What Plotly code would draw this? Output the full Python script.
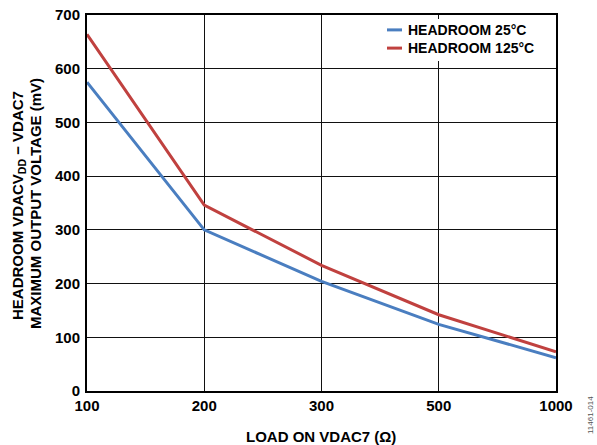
import plotly.graph_objects as go

loads = ["100", "200", "300", "500", "1000"]
headroom_25 = [575, 300, 204, 124, 62]
headroom_125 = [664, 346, 234, 142, 73]
series_names = ["HEADROOM 25°C", "HEADROOM 125°C"]
series_colors = ["#4A7EC0", "#C0413F"]

font_family = "Liberation Sans, Arial, sans-serif"
FS = 15
LEG_FS = 14

# plot area in pixels (from reference)
L, R, T, B = 87, 556, 15, 391
W, H = 597, 445

def px_x(px):
    return (px - L) / (R - L)

def px_y(py):
    return (B - py) / (B - T)

fig = go.Figure()
for vals, name, color in zip([headroom_25, headroom_125], series_names, series_colors):
    fig.add_trace(go.Scatter(x=loads, y=vals, mode="lines", name=name,
                             line=dict(color=color, width=3), showlegend=False))

fig.update_layout(
    width=W, height=H,
    margin=dict(l=L, r=W - R, t=T, b=H - B),
    paper_bgcolor="white", plot_bgcolor="white",
    font=dict(family=font_family, size=FS, color="black"),
    showlegend=False,
    xaxis=dict(type="category", range=[0, 4], showgrid=True, gridcolor="#111111", gridwidth=1,
               showline=True, linecolor="black", linewidth=2, mirror=True,
               ticks="", tickfont=dict(size=FS, family=font_family),
               tickprefix="<b>", ticksuffix="</b>", ticklabelstandoff=0,
               automargin=False),
    yaxis=dict(range=[0, 700], dtick=100, showgrid=True, gridcolor="#111111", gridwidth=1,
               showline=True, linecolor="black", linewidth=2, mirror=True,
               ticks="", tickfont=dict(size=FS, family=font_family),
               tickprefix="<b>", ticksuffix="</b>", ticklabelstandoff=2,
               automargin=False),
)

# legend (drawn manually to match the compact reference legend)
row_gap = LEG_FS * 1.3
row_y = [39 - row_gap / 2, 39 + row_gap / 2]
fig.add_shape(type="rect", xref="paper", yref="paper",
              x0=px_x(381), x1=px_x(553), y0=px_y(61), y1=px_y(19),
              fillcolor="white", line=dict(width=0), layer="above")
for yc, color in zip(row_y, series_colors):
    fig.add_shape(type="line", xref="paper", yref="paper",
                  x0=px_x(387), x1=px_x(402), y0=px_y(yc), y1=px_y(yc),
                  line=dict(color=color, width=3), layer="above")
fig.add_annotation(text="<br>".join("<b>" + n + "</b>" for n in series_names),
                   xref="paper", yref="paper", x=px_x(407), y=px_y(39),
                   xanchor="left", yanchor="middle", align="left",
                   showarrow=False, font=dict(size=LEG_FS, family=font_family), borderpad=0)

fig.add_annotation(text="<b>LOAD ON VDAC7 (Ω)</b>", xref="paper", yref="paper",
                   x=px_x(321), y=px_y(436), xanchor="center", yanchor="middle", showarrow=False,
                   font=dict(size=FS, family=font_family))
fig.add_annotation(text="<b>HEADROOM VDACV<sub>DD</sub> − VDAC7</b>",
                   xref="paper", yref="paper", x=px_x(18), y=px_y(206), xanchor="center", yanchor="middle",
                   textangle=-90, showarrow=False, font=dict(size=FS, family=font_family))
fig.add_annotation(text="<b>MAXIMUM OUTPUT VOLTAGE (mV)</b>",
                   xref="paper", yref="paper", x=px_x(35), y=px_y(204), xanchor="center", yanchor="middle",
                   textangle=-90, showarrow=False, font=dict(size=FS, family=font_family))
fig.add_annotation(text="11461-014", xref="paper", yref="paper", x=px_x(590), y=px_y(415),
                   xanchor="center", yanchor="middle", textangle=-90, showarrow=False,
                   font=dict(size=8, color="#555555", family=font_family))

fig.write_html("out.html", config={"displayModeBar": False},
               post_script="document.body.style.margin='0';document.body.style.overflow='hidden';")
